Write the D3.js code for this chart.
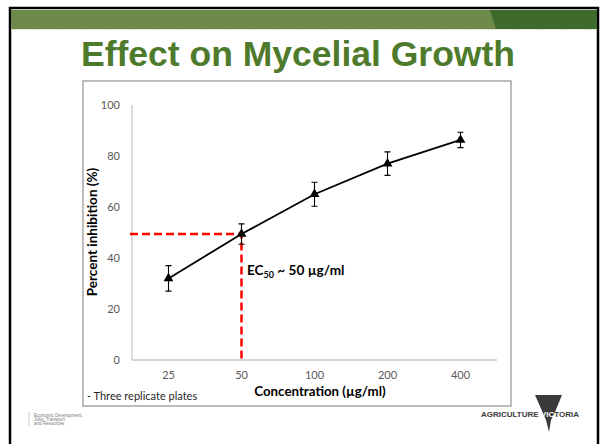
<!DOCTYPE html>
<html>
<head>
<meta charset="UTF-8">
<style>
  body { margin: 0; background: #fff; }
  svg { display: block; }
  .axis text { font-family: Lato, "Open Sans", sans-serif; font-size: 11px; fill: #595959; }
  .axis .domain { stroke: #c8c8c8; stroke-width: 1.3; }
</style>
</head>
<body>
<svg width="600" height="444"></svg>
<script src="https://d3js.org/d3.v7.min.js"></script>
<script>
// values
const concentrations = ["25", "50", "100", "200", "400"];
const inhibition = [32, 49.4, 65, 77, 86.3];
const errors = [5, 4, 4.7, 4.6, 3];
const yTicks = [0, 20, 40, 60, 80, 100];
const ec50 = { conc: "50", value: 49.4 };

let svg = d3.select("svg");

// slide frame
svg.append("rect").attr("x", 10).attr("y", 8).attr("width", 588).attr("height", 440)
    .attr("fill", "#fff").attr("stroke", "#000").attr("stroke-width", 2.5);
svg.append("rect").attr("x", 11).attr("y", 10).attr("width", 586).attr("height", 19)
    .attr("fill", "#6e8a4b");
svg.append("path").attr("d", "M490,10 L597,10 L597,29 L496,29 Z").attr("fill", "#3e6a2d");
svg.append("line").attr("x1", 11).attr("x2", 597).attr("y1", 29.5).attr("y2", 29.5)
    .attr("stroke", "#c9d3bd").attr("stroke-dasharray", "2,1").attr("stroke-width", 0.8);

svg.append("text")
    .attr("x", 298).attr("y", 66)
    .attr("text-anchor", "middle")
    .style("font-family", "'Liberation Sans', Arial, sans-serif")
    .style("font-weight", "bold")
    .style("font-size", "35.5px")
    .style("fill", "#4e7a2b")
    .text("Effect on Mycelial Growth");

// chart box
svg.append("rect").attr("x", 83).attr("y", 81).attr("width", 428).attr("height", 325)
    .attr("fill", "#fff").attr("stroke", "#a6a6a6").attr("stroke-width", 1.5);

let x = d3.scaleBand().domain(concentrations).range([132, 497]);
let y = d3.scaleLinear().domain([0, 100]).range([360, 105]);
let cx = d => x(d) + x.bandwidth() / 2;

svg.append("g").attr("class", "axis")
    .attr("transform", "translate(132,0)")
    .call(d3.axisLeft(y).tickValues(yTicks).tickSize(0).tickPadding(12))
    .call(g => g.select(".domain").attr("d", "M0," + y(100) + "V" + y(0)));

svg.append("g").attr("class", "axis")
    .attr("transform", "translate(0,360)")
    .call(d3.axisBottom(x).tickSize(0).tickPadding(11))
    .call(g => g.select(".domain").attr("d", "M132,0H497"));

// EC50 guide
svg.append("path")
    .attr("d", "M130," + y(ec50.value) + "H" + cx(ec50.conc) + "V" + y(0))
    .attr("fill", "none").attr("stroke", "#ff0000").attr("stroke-width", 2.5)
    .attr("stroke-dasharray", "8,4");

let pts = concentrations.map((c, i) => ({ c: c, v: inhibition[i], e: errors[i] }));

svg.append("path").datum(pts)
    .attr("d", d3.line().x(d => cx(d.c)).y(d => y(d.v)))
    .attr("fill", "none").attr("stroke", "#000").attr("stroke-width", 1.8);

svg.append("g").selectAll("path").data(pts).enter().append("path")
    .attr("d", d => {
        let xx = cx(d.c), t = y(d.v + d.e), b = y(d.v - d.e);
        return "M" + (xx - 3) + "," + t + "H" + (xx + 3) + "M" + xx + "," + t + "V" + b +
            "M" + (xx - 3) + "," + b + "H" + (xx + 3);
    })
    .attr("fill", "none").attr("stroke", "#000").attr("stroke-width", 1.1);

svg.append("g").selectAll("path.m").data(pts).enter().append("path")
    .attr("transform", d => "translate(" + cx(d.c) + "," + y(d.v) + ")")
    .attr("d", d3.symbol().type(d3.symbolTriangle).size(42))
    .attr("fill", "#000");

// labels
let lab = svg.append("g").style("font-family", "Lato, 'Open Sans', sans-serif");

lab.append("text")
    .attr("transform", "translate(97,232) rotate(-90)")
    .attr("text-anchor", "middle")
    .style("font-weight", "bold").style("font-size", "13.5px").style("fill", "#000")
    .text("Percent inhibition (%)");

lab.append("text")
    .attr("x", 320).attr("y", 396)
    .attr("text-anchor", "middle")
    .style("font-weight", "bold").style("font-size", "13.3px").style("fill", "#000")
    .text("Concentration (µg/ml)");

let ec = lab.append("text")
    .attr("x", 247).attr("y", 275)
    .style("font-weight", "bold").style("font-size", "13.6px").style("fill", "#000");
ec.append("tspan").text("EC");
ec.append("tspan").attr("dy", 3).style("font-size", "9px").text("50");
ec.append("tspan").attr("dy", -3).text(" ~ 50 µg/ml");

lab.append("text")
    .attr("x", 87).attr("y", 400)
    .style("font-size", "11px").style("fill", "#262626")
    .text("- Three replicate plates");

// footer
svg.append("line").attr("x1", 29).attr("x2", 29).attr("y1", 412).attr("y2", 426)
    .attr("stroke", "#bbb").attr("stroke-width", 0.8);
let foot = svg.append("g").style("font-family", "'Liberation Sans', Arial, sans-serif")
    .style("font-size", "4.5px").style("fill", "#777");
["Economic Development,", "Jobs, Transport", "and Resources"].forEach((t, i) => {
    foot.append("text").attr("x", 34).attr("y", 417 + i * 4.2).text(t);
});

svg.append("path")
    .attr("d", "M535,395 L562,395 L555,412 L551,420 L549,432 L546,420 Z")
    .attr("fill", "#3a3a3a");
let av = svg.append("text").attr("x", 481).attr("y", 417)
    .style("font-family", "'Liberation Sans', Arial, sans-serif")
    .style("font-weight", "bold").style("font-size", "8px").style("fill", "#3a3a3a");
av.append("tspan").text("AGRICULTURE ");
av.append("tspan").style("fill", "#fff").text("VIC");
av.append("tspan").text("TORIA");
</script>
</body>
</html>
